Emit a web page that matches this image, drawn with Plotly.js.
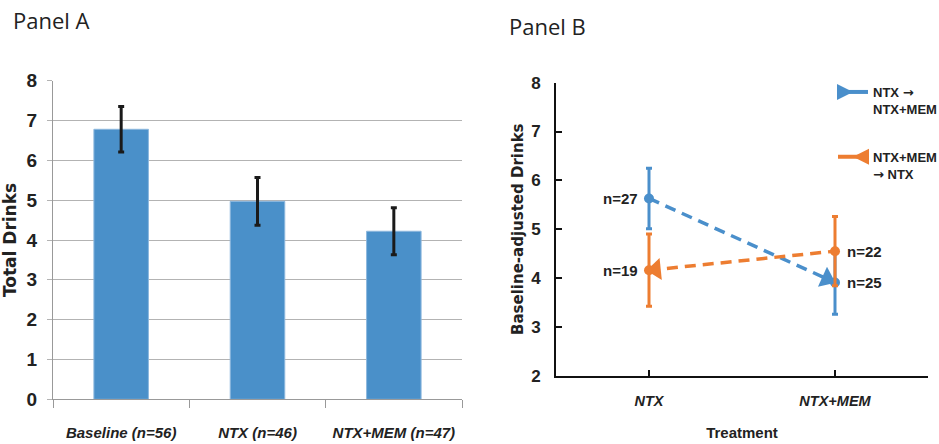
<!DOCTYPE html>
<html>
<head>
<meta charset="utf-8">
<script src="https://cdn.plot.ly/plotly-3.0.1.min.js"></script>
<style>html,body{margin:0;padding:0;background:#fff}#chart{width:939px;height:444px}</style>
</head>
<body>
<div id="chart"></div>
<script>
// Panel A data
const barCategories = ['Baseline (n=56)', 'NTX (n=46)', 'NTX+MEM (n=47)'];
const barValues = [6.78, 4.97, 4.22];
const barErrors = [0.57, 0.60, 0.59];

// Panel B data
const treatments = ['NTX', 'NTX+MEM'];
const ntxFirstValues = [5.63, 3.91];      // NTX -> NTX+MEM
const ntxFirstErrors = [0.62, 0.65];
const ntxFirstN = ['n=27', 'n=25'];
const memFirstValues = [4.16, 4.55];      // NTX+MEM -> NTX (indexed by treatment)
const memFirstErrors = [0.74, 0.71];
const memFirstN = ['n=19', 'n=22'];
const ARROW = '<span style="font-family:DejaVu Sans">\u2192</span>';
const legendNames = ['NTX ' + ARROW + '<br>NTX+MEM', 'NTX+MEM<br>' + ARROW + ' NTX'];

const BLUE = '#4A8FCB';
const ORANGE = '#ED7D31';
const CLEAR = 'rgba(0,0,0,0)';
const NARROW = 'Liberation Sans, Arial, sans-serif';
const WIDE = 'DejaVu Sans, Verdana, sans-serif';
const TXT = '#222';

const traces = [
  {
    type: 'bar', x: barCategories, y: barValues, xaxis: 'x', yaxis: 'y',
    width: 0.4, marker: {color: '#4A90C9', line: {color: '#8DB8DE', width: 1}},
    error_y: {type: 'data', array: barErrors, visible: true, color: '#1a1a1a', thickness: 3, width: 3},
    showlegend: false, hoverinfo: 'skip'
  },
  // Blue series
  {
    type: 'scatter', mode: 'lines+markers', x: treatments, y: ntxFirstValues, xaxis: 'x2', yaxis: 'y2',
    line: {color: BLUE, width: 3.5, dash: '11px,7px'},
    marker: {color: BLUE, size: 10, symbol: 'circle', opacity: 1},
    error_y: {type: 'data', array: ntxFirstErrors, visible: true, color: BLUE, thickness: 3, width: 3},
    showlegend: false
  },
  {
    type: 'scatter', mode: 'markers', x: treatments, y: ntxFirstValues, xaxis: 'x2', yaxis: 'y2',
    marker: {color: [CLEAR, BLUE], opacity: 1, size: 19, symbol: 'triangle-up', angleref: 'previous',
             standoff: [0, 9], line: {width: 0}},
    showlegend: false
  },
  // Orange series
  {
    type: 'scatter', mode: 'lines+markers', x: treatments, y: memFirstValues, xaxis: 'x2', yaxis: 'y2',
    line: {color: ORANGE, width: 3.5, dash: '11px,7px'},
    marker: {color: ORANGE, size: 10, symbol: 'circle', opacity: 1},
    error_y: {type: 'data', array: memFirstErrors, visible: true, color: ORANGE, thickness: 3, width: 3},
    showlegend: false
  },
  {
    type: 'scatter', mode: 'markers', x: treatments.slice().reverse(), y: memFirstValues.slice().reverse(), xaxis: 'x2', yaxis: 'y2',
    marker: {color: [CLEAR, ORANGE], opacity: 1, size: 19, symbol: 'triangle-up', angleref: 'previous',
             standoff: [0, 7], line: {width: 0}},
    showlegend: false
  },
  // Legend entries
  {
    type: 'scatter', mode: 'lines+markers', x: [null], y: [null], xaxis: 'x2', yaxis: 'y2',
    name: legendNames[0], legendgroup: 'a',
    line: {color: BLUE, width: 4}, marker: {color: BLUE, size: 16, symbol: 'arrow-right'}
  },
  {
    type: 'scatter', mode: 'lines+markers', x: [null], y: [null], xaxis: 'x2', yaxis: 'y2',
    name: legendNames[1], legendgroup: 'b',
    line: {color: ORANGE, width: 4}, marker: {color: ORANGE, size: 16, symbol: 'arrow-left'}
  }
];

const annotations = [
  {xref: 'paper', yref: 'paper', x: 11/939, y: 1 - 20/444, text: 'Panel A', showarrow: false,
   xanchor: 'left', yanchor: 'middle', font: {family: 'Open Sans, sans-serif', size: 22, color: TXT}},
  {xref: 'paper', yref: 'paper', x: 507/939, y: 1 - 26/444, text: 'Panel B', showarrow: false,
   xanchor: 'left', yanchor: 'middle', font: {family: 'Open Sans, sans-serif', size: 22, color: TXT}}
];
treatments.forEach((t, i) => {
  const side = i === 0 ? 'right' : 'left';
  const shift = i === 0 ? -9 : 10;
  annotations.push({xref: 'x2', yref: 'y2', x: t, y: ntxFirstValues[i], text: ntxFirstN[i], showarrow: false,
    xanchor: side, yanchor: 'middle', xshift: shift,
    font: {family: NARROW, size: 15, weight: 'bold', color: TXT}});
  annotations.push({xref: 'x2', yref: 'y2', x: t, y: memFirstValues[i], text: memFirstN[i], showarrow: false,
    xanchor: side, yanchor: 'middle', xshift: shift,
    font: {family: NARROW, size: 15, weight: 'bold', color: TXT}});
});

const layout = {
  width: 939, height: 444,
  margin: {l: 0, r: 0, t: 0, b: 0, autoexpand: false},
  paper_bgcolor: '#fff', plot_bgcolor: 'rgba(0,0,0,0)',
  showlegend: true,
  legend: {x: 833/939, y: 1 - 77/444, xanchor: 'left', yanchor: 'top', valign: 'top',
    font: {family: NARROW, size: 13, weight: 'bold', color: TXT},
    traceorder: 'grouped', tracegroupgap: 28, itemwidth: 30, bgcolor: 'rgba(0,0,0,0)'},
  xaxis: {
    domain: [53/939, 462/939], anchor: 'y', type: 'category', range: [-0.5, 2.5],
    tickson: 'boundaries', ticks: 'outside', ticklen: 8, tickcolor: '#999', tickangle: 0,
    showline: true, linecolor: '#999', linewidth: 1, showgrid: false,
    tickfont: {family: NARROW, size: 15, weight: 'bold', style: 'italic', color: TXT},
    ticklabelstandoff: 20
  },
  yaxis: {
    domain: [1 - 399.3/444, 1 - 80.7/444], anchor: 'x', range: [0, 8], dtick: 1,
    showgrid: true, gridcolor: '#b3b3b3', gridwidth: 1, zeroline: false,
    showline: true, linecolor: '#999', ticks: 'outside', ticklen: 5, tickcolor: '#b3b3b3',
    tickfont: {family: NARROW, size: 19, weight: 'bold', color: TXT},
    ticklabelstandoff: 6,
    title: {text: 'Total Drinks', font: {family: WIDE, size: 17, weight: 'bold', color: TXT}, standoff: 6}
  },
  xaxis2: {
    domain: [556/939, 928/939], anchor: 'y2', type: 'category', range: [-0.5, 1.5],
    ticks: 'inside', ticklen: 6, tickwidth: 2, tickcolor: '#111', tickangle: 0,
    showline: true, linecolor: '#111', linewidth: 2, showgrid: false,
    tickfont: {family: NARROW, size: 14.5, weight: 'bold', style: 'italic', color: TXT},
    ticklabelstandoff: 11,
    title: {text: 'Treatment', font: {family: NARROW, size: 15, weight: 'bold', color: TXT}, standoff: 19}
  },
  yaxis2: {
    domain: [1 - 375.7/444, 1 - 82.7/444], anchor: 'x2', range: [2, 8], dtick: 1,
    showgrid: false, zeroline: false,
    showline: true, linecolor: '#111', linewidth: 2, ticks: 'inside', ticklen: 6, tickwidth: 2, tickcolor: '#111',
    tickfont: {family: NARROW, size: 17, weight: 'bold', color: TXT},
    ticklabelstandoff: 10,
    title: {text: 'Baseline-adjusted Drinks', font: {family: WIDE, size: 15, weight: 'bold', color: TXT}, standoff: 4}
  },
  annotations: annotations
};

Plotly.newPlot('chart', traces, layout, {displayModeBar: false, staticPlot: true});
</script>
</body>
</html>
